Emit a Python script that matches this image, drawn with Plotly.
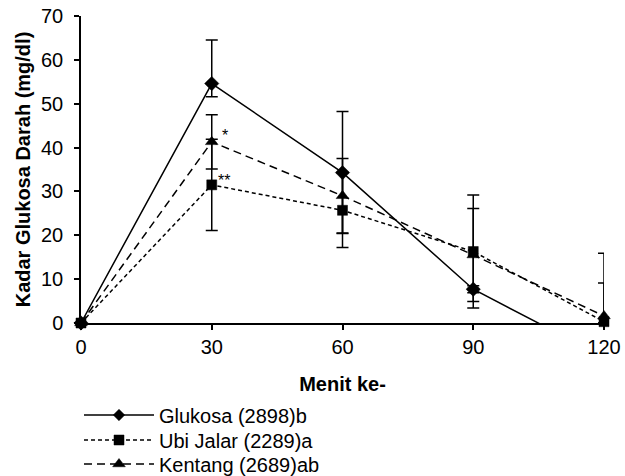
import plotly.graph_objects as go

# ---- data ----
menit = [0, 30, 60, 90, 120]
tick_labels = ["0", "30", "60", "90", "120"]

glukosa = [0, 54.6, 34.3, 7.7, -7.8]
glukosa_err_plus = [0, 9.9, 13.9, 0.8, 0]
glukosa_err_minus = [0, 3.0, 13.9, 0.8, 0]

ubi_jalar = [0, 31.5, 25.7, 16.3, 0.3]
ubi_err_plus = [0, 10.4, 8.5, 12.9, 8.8]
ubi_err_minus = [0, 10.4, 8.5, 12.9, 0.3]

kentang = [0, 41.3, 29.0, 15.5, 1.6]
kentang_err_plus = [0, 6.2, 8.5, 10.6, 14.3]
kentang_err_minus = [0, 6.2, 8.5, 10.6, 1.6]

names = ["Glukosa (2898)b", "Ubi Jalar (2289)a", "Kentang (2689)ab"]

FONT = "Liberation Sans, Arial, sans-serif"
W, H = 625, 476
ML, MR, MT, MB = 81, 21, 16, 153

fig = go.Figure()

def add(y, ep, em, name, dash, symbol, sizes, legend):
    fig.add_trace(go.Scatter(
        x=menit, y=y, name=name, mode="lines+markers", legend=legend,
        line=dict(color="black", width=1.5, dash=dash),
        marker=dict(symbol=symbol, color="black", size=sizes, opacity=1,
                    line=dict(color="black", width=0.5)),
        error_y=dict(type="data", symmetric=False, array=ep, arrayminus=em,
                     color="black", thickness=1.5, width=6),
        cliponaxis=False,
    ))

add(glukosa, glukosa_err_plus, glukosa_err_minus, names[0], "solid", "diamond", [11, 11, 11, 11, 0], "legend")
add(ubi_jalar, ubi_err_plus, ubi_err_minus, names[1], "4px,3px", "square", [10] * 5, "legend2")
add(kentang, kentang_err_plus, kentang_err_minus, names[2], "8px,5px", "triangle-up", [11] * 5, "legend3")

fig.add_annotation(x=30, y=kentang[1], text="*", showarrow=False, xanchor="left",
                   yanchor="bottom", xshift=8, yshift=-4, font=dict(size=16, family=FONT, color="black"))
fig.add_annotation(x=30, y=ubi_jalar[1], text="**", showarrow=False, xanchor="left",
                   yanchor="bottom", xshift=4, yshift=-6, font=dict(size=16, family=FONT, color="black"))

plot_w = W - ML - MR

def leg(row_y):
    return dict(xref="paper", yref="container", x=(79 - ML) / plot_w, y=1 - row_y / H,
                xanchor="left", yanchor="middle",
                font=dict(size=20, family=FONT, color="black"),
                bgcolor="rgba(0,0,0,0)", itemwidth=70)

fig.update_layout(
    width=W, height=H,
    margin=dict(l=ML, r=MR, t=MT, b=MB),
    paper_bgcolor="white", plot_bgcolor="white",
    font=dict(family=FONT, size=20, color="black"),
    showlegend=True,
    legend=leg(415), legend2=leg(440), legend3=leg(464),
    xaxis=dict(range=[0, 120], tickvals=menit, ticktext=tick_labels, automargin=False,
               showline=True, linecolor="black", linewidth=1.5,
               ticks="outside", ticklen=5, tickwidth=1.5, tickcolor="black",
               showgrid=False, zeroline=False, ticklabelstandoff=0,
               ticklabeloverflow="allow",
               title=dict(text="<b>Menit ke-</b>", font=dict(size=20), standoff=20)),
    yaxis=dict(range=[0, 70], dtick=10, automargin=False,
               showline=True, linecolor="black", linewidth=1.5,
               ticks="outside", ticklen=5, tickwidth=1.5, tickcolor="black",
               showgrid=False, zeroline=False, ticklabelstandoff=7,
               title=dict(text="<b>Kadar Glukosa Darah (mg/dl)</b>", font=dict(size=20), standoff=5)),
)

fig.write_html("out.html", config={"displayModeBar": False},
               post_script="document.body.style.margin='0';")
